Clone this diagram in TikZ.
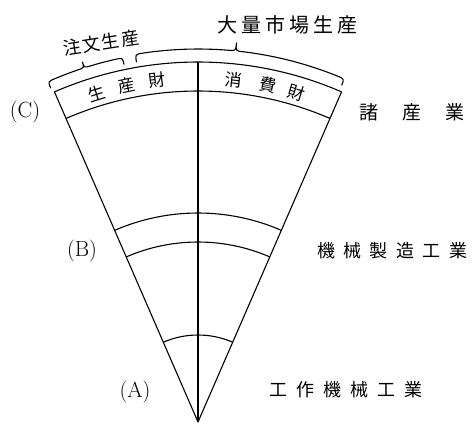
\documentclass[tikz,border=0pt]{standalone}
\usepackage{fontspec}
\newfontfamily\jp{Noto Sans CJK JP}
\begin{document}
\begin{tikzpicture}[x=1pt,y=1pt,
  edge/.style={line width=1.1pt, line join=round},
  jpl/.style={font=\jp\fontsize{18}{18}\selectfont, inner sep=0pt},
  bandtxt/.style={font=\jp\fontsize{17}{17}\selectfont, inner sep=0pt},
  lab/.style={font=\fontsize{22}{22}\selectfont, inner sep=0pt},
  bracepath/.style={line width=1.1pt, line join=round}]
\useasboundingbox (0,0) rectangle (473,424);
\coordinate (O) at (198,2);
\begin{scope}[shift={(198,2)}]
  % outline of the fan
  \draw[edge] (113.5:360) coordinate (TL) -- (0,0) coordinate (apex) -- (66.5:360) coordinate (TR);
  \draw[edge] (TR) arc[start angle=66.5,end angle=113.5,radius=360];
  \draw[edge] (apex) -- (90:360) coordinate (TC);
  % inner arcs
  \foreach \r in {331,209,180,87}
    \draw[edge] (66.5:\r) arc[start angle=66.5,end angle=113.5,radius=\r];
  % band texts
  \node[bandtxt,rotate=17.2] (g1) at (107.2:344) {生};
  \node[bandtxt,rotate=12.0] (g2) at (102.0:344) {産};
  \node[bandtxt,rotate=6.8]  (g3) at (96.8:344) {財};
  \node[bandtxt,rotate=-6.0]  (h1) at (84.0:344) {消};
  \node[bandtxt,rotate=-11.7] (h2) at (78.3:344) {費};
  \node[bandtxt,rotate=-16.7] (h3) at (73.3:344) {財};
  % small brace
  \draw[bracepath] (113.8:365) .. controls (113.8:372) .. (112.6:372)
     arc[start angle=112.6,end angle=108.9,radius=372]
     .. controls (107.8:372) .. (107.8:378)
     .. controls (107.8:372) .. (106.7:372)
     arc[start angle=106.7,end angle=102.9,radius=372]
     .. controls (101.7:372) .. (101.7:365);
  % big brace
  \draw[bracepath] (99.7:365) .. controls (99.7:373) .. (98.5:373)
     arc[start angle=98.5,end angle=85.3,radius=373]
     .. controls (84.2:373) .. (84.2:381)
     .. controls (84.2:373) .. (83.1:373)
     arc[start angle=83.1,end angle=68.1,radius=373]
     .. controls (66.9:373) .. (66.9:366);
\end{scope}
% labels
\node[lab] (C) at (25,312) {(C)};
\node[lab] (B) at (82,173) {(B)};
\node[lab] (A) at (135,32) {(A)};
\node[jpl,font=\jp\fontsize{19}{19}\selectfont] (c1) at (412,312) {諸\hspace{24pt}産\hspace{24pt}業};
\node[jpl] (b1) at (392,173) {機\hspace{8.4pt}械\hspace{8.4pt}製\hspace{8.4pt}造\hspace{8.4pt}工\hspace{8.4pt}業};
\node[jpl] (a1) at (346,34) {工\hspace{9pt}作\hspace{9pt}機\hspace{9pt}械\hspace{9pt}工\hspace{9pt}業};
\node[jpl,font=\jp\fontsize{20}{20}\selectfont] (m1) at (287.5,399) {大\hspace{4pt}量\hspace{4pt}市\hspace{4pt}場\hspace{4pt}生\hspace{4pt}産};
\node[jpl,font=\jp\fontsize{18}{18}\selectfont,rotate=8.8] (o1) at (101,381.5) {注\hspace{1.5pt}文\hspace{1.5pt}生\hspace{1.5pt}産};
\end{tikzpicture}
\end{document}
